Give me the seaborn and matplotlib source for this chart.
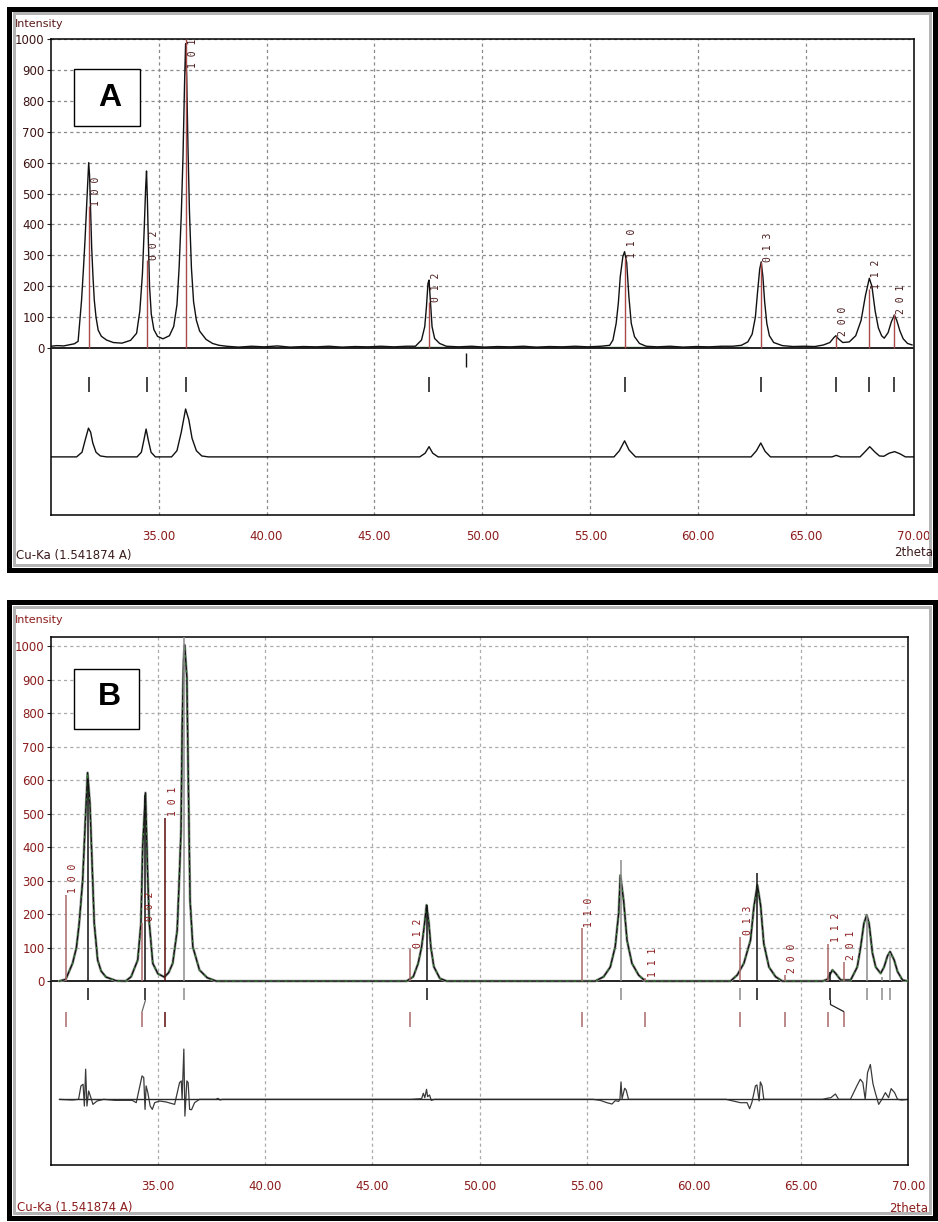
import matplotlib
matplotlib.use('Agg')
import matplotlib.pyplot as plt
from matplotlib.patches import Rectangle
import seaborn as sns
import pandas as pd

# ---- panel A : observed pattern, stick lines, calculated pattern ----
a_obs = [(30.0, 6), (30.3, 8), (30.6, 7), (30.9, 11), (31.1, 14), (31.27, 22), (31.43, 155), (31.52, 260),
         (31.59, 350), (31.65, 440), (31.70, 520), (31.76, 600), (31.80, 560), (31.86, 420), (31.90, 323),
         (31.96, 230), (32.02, 155), (32.10, 100), (32.20, 58), (32.35, 38), (32.59, 26), (32.9, 18), (33.3, 16),
         (33.7, 25), (33.98, 48), (34.13, 120), (34.25, 240), (34.33, 380), (34.40, 520), (34.44, 573),
         (34.48, 480), (34.53, 330), (34.58, 200), (34.66, 110), (34.78, 60), (34.95, 38), (35.2, 30), (35.5, 40),
         (35.7, 70), (35.85, 140), (35.95, 260), (36.05, 430), (36.13, 620), (36.20, 850), (36.25, 985),
         (36.30, 880), (36.36, 650), (36.43, 440), (36.52, 260), (36.62, 150), (36.75, 90), (36.9, 55),
         (37.2, 28), (37.5, 15), (37.8, 9), (38.15, 6), (38.7, 3), (39.3, 6), (39.9, 4), (40.5, 7), (41.1, 3),
         (41.7, 5), (42.3, 4), (42.9, 6), (43.5, 3), (44.1, 5), (44.7, 4), (45.3, 6), (45.9, 4), (46.5, 6),
         (46.9, 6), (47.18, 26), (47.33, 69), (47.41, 134), (47.48, 209), (47.53, 220), (47.59, 155), (47.67, 69),
         (47.79, 31), (48.02, 15), (48.33, 6), (48.9, 4), (49.5, 6), (50.1, 3), (50.7, 5), (51.3, 4), (51.9, 6),
         (52.5, 3), (53.1, 5), (53.7, 4), (54.3, 6), (54.9, 4), (55.5, 6), (55.9, 9), (56.05, 26), (56.2, 80),
         (56.3, 145), (56.39, 231), (56.51, 296), (56.59, 312), (56.69, 275), (56.79, 166), (56.9, 80),
         (57.05, 37), (57.28, 15), (57.59, 6), (58.1, 4), (58.7, 6), (59.3, 3), (59.9, 5), (60.5, 4), (61.1, 6),
         (61.6, 6), (62.0, 9), (62.3, 20), (62.5, 45), (62.65, 100), (62.75, 180), (62.85, 255), (62.92, 279),
         (63.0, 230), (63.08, 150), (63.18, 80), (63.3, 40), (63.5, 18), (63.9, 8), (64.4, 5), (64.9, 6),
         (65.4, 5), (65.8, 10), (66.1, 18), (66.3, 35), (66.38, 40), (66.5, 30), (66.7, 18), (67.0, 20),
         (67.3, 40), (67.55, 90), (67.75, 170), (67.93, 226), (68.05, 200), (68.2, 120), (68.35, 65), (68.5, 40),
         (68.62, 32), (68.8, 50), (68.95, 85), (69.09, 107), (69.2, 90), (69.35, 55), (69.5, 30), (69.7, 15),
         (69.92, 10)]

a_calc = [(30.0, 0), (31.2, 0), (31.45, 15), (31.6, 55), (31.75, 93), (31.85, 80), (31.95, 45), (32.1, 15),
          (32.3, 3), (32.6, 0), (34.0, 0), (34.2, 15), (34.32, 55), (34.42, 90), (34.52, 55), (34.65, 15),
          (34.85, 0), (35.6, 0), (35.85, 20), (36.05, 80), (36.25, 155), (36.4, 120), (36.55, 60), (36.75, 20),
          (37.0, 3), (37.3, 0), (47.1, 0), (47.35, 12), (47.53, 33), (47.7, 12), (47.95, 0), (56.1, 0),
          (56.35, 20), (56.59, 52), (56.8, 22), (57.1, 0), (62.45, 0), (62.7, 20), (62.9, 45), (63.1, 18),
          (63.35, 0), (66.2, 0), (66.4, 5), (66.6, 0), (67.5, 0), (67.75, 18), (67.95, 33), (68.2, 15), (68.4, 3),
          (68.6, 2), (68.85, 12), (69.1, 17), (69.35, 10), (69.6, 0), (70.0, 0)]

a_hkl = ['100', '002', '101', '012', '110', '013', '200', '112', '201']
a_pos = [31.79, 34.44, 36.25, 47.53, 56.59, 62.92, 66.38, 67.93, 69.09]
a_stick = [460, 285, 1000, 150, 290, 280, 40, 190, 110]
a_extra_tick = [49.26]

# ---- panel B : observed pattern, two phases, difference curve ----
b_obs = [(30.4, 0), (30.7, 5), (31.02, 53), (31.2, 100), (31.33, 173), (31.49, 300), (31.61, 471), (31.72, 622),
         (31.83, 530), (31.93, 352), (32.03, 173), (32.19, 63), (32.35, 30), (32.58, 12), (33.05, 1), (33.5, 0),
         (33.75, 13), (34.06, 63), (34.21, 173), (34.29, 400), (34.42, 562), (34.52, 322), (34.60, 173),
         (34.76, 53), (35.0, 22), (35.30, 12), (35.5, 25), (35.69, 53), (35.9, 152), (36.0, 311), (36.08, 451),
         (36.13, 749), (36.2, 960), (36.25, 1003), (36.35, 908), (36.41, 640), (36.5, 242), (36.63, 102),
         (36.94, 33), (37.3, 10), (37.72, 0), (46.6, 0), (46.91, 13), (47.14, 53), (47.3, 102), (47.42, 162),
         (47.53, 227), (47.64, 172), (47.73, 102), (47.87, 43), (48.15, 8), (48.47, 0), (55.40, 0), (55.79, 13),
         (56.1, 42), (56.33, 103), (56.49, 202), (56.57, 316), (56.72, 242), (56.88, 122), (57.11, 53),
         (57.42, 18), (57.73, 0), (61.71, 0), (62.02, 18), (62.33, 53), (62.64, 122), (62.8, 222), (62.96, 287),
         (63.11, 227), (63.26, 112), (63.5, 42), (63.81, 13), (64.12, 0), (66.0, 0), (66.22, 5), (66.46, 33),
         (66.61, 23), (66.85, 3), (67.31, 3), (67.62, 42), (67.78, 103), (67.93, 172), (68.06, 197), (68.17, 172),
         (68.33, 83), (68.48, 42), (68.71, 23), (68.87, 42), (69.03, 75), (69.15, 88), (69.34, 63), (69.5, 28),
         (69.73, 3), (70.0, 0)]

b_diff = [(30.4, 0), (31.0, -2), (31.3, 0), (31.41, 40), (31.51, 45), (31.57, -20), (31.63, 90), (31.69, -20),
          (31.77, 25), (31.85, 10), (31.97, -15), (32.16, -5), (32.47, 0), (33.0, -3), (33.8, -3), (33.99, -10),
          (34.26, 70), (34.34, 65), (34.40, -30), (34.45, 40), (34.53, 20), (34.64, -20), (34.74, -30),
          (34.85, -10), (35.08, -5), (35.39, -8), (35.78, -15), (36.01, 50), (36.09, 55), (36.13, 0), (36.21, 150),
          (36.26, -50), (36.35, 55), (36.41, 50), (36.48, -30), (36.57, -31), (36.71, -10), (36.94, 0), (37.7, 0),
          (37.8, 3), (37.9, -2), (38.0, 0), (46.8, 0), (47.3, 2), (47.38, 18), (47.45, 5), (47.53, 30), (47.58, 8),
          (47.67, 13), (47.75, -3), (47.9, 0), (55.3, 0), (55.63, -3), (55.94, -10), (56.18, -14), (56.33, -4),
          (56.49, -6), (56.55, 0), (56.6, 52), (56.65, 2), (56.77, 33), (56.84, 28), (56.95, 0), (57.6, 0),
          (61.5, 0), (62.17, -10), (62.48, -10), (62.6, -28), (62.71, -8), (62.87, 40), (62.94, 43), (63.04, -5),
          (63.1, 52), (63.18, 40), (63.26, 0), (66.0, 0), (66.2, 3), (66.39, 5), (66.6, 16), (66.75, 0), (67.3, 0),
          (67.6, 40), (67.76, 60), (67.88, 50), (67.99, 0), (68.1, 80), (68.23, 104), (68.35, 47), (68.46, 20),
          (68.62, -15), (68.77, 0), (68.93, 20), (69.08, 5), (69.2, 32), (69.36, 20), (69.5, 0), (69.7, -2),
          (70.0, 0)]

# phase 1 (observed peak positions) sticks
b_pos1 = [31.72, 34.42, 36.21, 47.53, 56.6, 62.96, 66.37, 68.06, 68.78, 69.15]
b_stick1 = [600, 555, 1028, 227, 361, 322, 28, 197, 13, 83]
b_dark1 = [True, True, False, True, False, True, True, False, False, False]
# phase 2 (reference card) sticks with labels
b_hkl = ['100', '002', '101', '012', '110', '111', '013', '200', '112', '201']
b_pos2 = [30.71, 34.26, 35.34, 46.78, 54.78, 57.72, 62.17, 64.23, 66.27, 66.99]
b_stick2 = [257, 173, 487, 95, 157, 8, 132, 18, 112, 58]

xticks = [35, 40, 45, 50, 55, 60, 65, 70]
yticks = list(range(0, 1001, 100))

W, H = 938, 1222
MAROON = '#8b1c1c'
sns.set_theme(style='white')
plt.rcParams['font.family'] = ['Liberation Sans Narrow', 'DejaVu Sans']

fig = plt.figure(figsize=(W / 100, H / 100), dpi=100)
fig.patch.set_facecolor('white')


def frac_rect(x0, y0, x1, y1, **kw):
    # rectangle given in picture pixels (top-left origin)
    return Rectangle((x0 / W, 1 - y1 / H), (x1 - x0) / W, (y1 - y0) / H,
                     transform=fig.transFigure, **kw)


def hkl_text(h):
    return ' '.join(h)


def base_axes(rect, ylim, ylab_color, grid_col):
    x0, y0, x1, y1 = rect
    ax = fig.add_axes([x0 / W, 1 - y1 / H, (x1 - x0) / W, (y1 - y0) / H])
    ax.set_xlim(30, 70)
    ax.set_ylim(*ylim)
    for xv in xticks[:-1]:
        ax.axvline(xv, color=grid_col, lw=0.9, ls=(0, (2.5, 2.5)), zorder=0)
    for yv in yticks[1:]:
        ax.axhline(yv, color=grid_col, lw=0.9, ls=(0, (2.5, 2.5)), zorder=0)
    ax.axhline(0, color='#222222', lw=1.4, zorder=3)
    ax.set_xticks(xticks)
    ax.set_xticklabels(['%.2f' % v for v in xticks])
    ax.set_yticks(yticks)
    ax.set_yticklabels([str(v) for v in yticks])
    ax.tick_params(axis='x', length=0, pad=11, labelsize=8.5, labelcolor=MAROON)
    ax.tick_params(axis='y', length=3, width=0.8, direction='out', pad=1.5, labelsize=8.5,
                   labelcolor=ylab_color, left=True)
    for s in ax.spines.values():
        s.set_color('black')
        s.set_linewidth(1.1)
    return ax


# ================= panel A =================
axA = base_axes((50.7, 39, 914, 515), (-540, 1000), '#3c1414', '#8a8a8a')
dfa = pd.DataFrame(a_obs, columns=['tt', 'I'])
dfc = pd.DataFrame(a_calc, columns=['tt', 'I'])
axA.plot([38, 47, 48.3, 56, 57.6, 62.3], [2, 2, 2, 2, 2, 2], color='#2f7a2f', lw=1.0, zorder=2)
sns.lineplot(data=dfa, x='tt', y='I', ax=axA, color='#111111', lw=1.0, estimator=None, sort=False,
             legend=False, zorder=4)
sns.lineplot(x=dfc['tt'], y=dfc['I'] - 352, ax=axA, color='#111111', lw=1.0, estimator=None, sort=False,
             legend=False)
axA.vlines(a_pos, 0, a_stick, colors='#a64a4a', lw=1.0, zorder=5)
axA.vlines(a_pos, -142, -94, colors='#111111', lw=1.1)
axA.vlines(a_extra_tick, -60, -16, colors='#111111', lw=1.0)
for h, x, s in zip(a_hkl, a_pos, a_stick):
    axA.text(x + 0.33, min(s, 905), hkl_text(h), rotation=90, ha='center', va='bottom',
             family='DejaVu Sans Mono', fontsize=7, color='#4a1a1a', zorder=6)
axA.set_xlabel('')
axA.set_ylabel('')

# ================= panel B =================
axB = base_axes((50.7, 636.7, 908.3, 1165), (-549, 1028), MAROON, '#ababab')
dfb = pd.DataFrame(b_obs, columns=['tt', 'I'])
dfd = pd.DataFrame(b_diff, columns=['tt', 'd'])
sns.lineplot(data=dfb, x='tt', y='I', ax=axB, color='#a8a8a8', lw=2.0, estimator=None, sort=False,
             legend=False, zorder=3)
sns.lineplot(data=dfb, x='tt', y='I', ax=axB, color='#111111', lw=1.0, estimator=None, sort=False,
             legend=False, zorder=4)
sns.lineplot(data=dfb, x='tt', y='I', ax=axB, color='#2f7a2f', lw=0.9, estimator=None, sort=False,
             legend=False, zorder=4, linestyle=(0, (2, 4)))
sns.lineplot(x=dfd['tt'], y=dfd['d'] - 353, ax=axB, color='#3a3a3a', lw=0.9, estimator=None, sort=False,
             legend=False)
axB.plot([30.4, 70.0], [-353, -353], color='#2a2a2a', lw=1.0)

c1 = ['#111111' if d else '#8c8c8c' for d in b_dark1]
axB.vlines(b_pos1, 0, b_stick1, colors=c1, lw=1.1, zorder=5)
axB.vlines(b_pos1, -57, -20, colors=c1, lw=1.1)
c2 = ['#5a0c0c' if p == 35.34 else '#a86a6a' for p in b_pos2]
axB.vlines(b_pos2, 0, b_stick2, colors=c2, lw=1.1, zorder=5)
axB.vlines(b_pos2, -136, -91, colors=c2, lw=1.1)
# connectors between overlapping reflections of the two phases
axB.plot([34.42, 34.26], [-57, -91], color='#6a6a6a', lw=0.9)
axB.plot([66.37, 66.37, 66.99], [-57, -70, -91], color='#222222', lw=0.9)
axB.vlines([62.17], -57, -20, colors='#8c8c8c', lw=1.1)
for h, x, s in zip(b_hkl, b_pos2, b_stick2):
    axB.text(x + 0.35, s + 5, hkl_text(h), rotation=90, ha='center', va='bottom',
             family='DejaVu Sans Mono', fontsize=7, color=MAROON, zorder=6)
axB.set_xlabel('')
axB.set_ylabel('')

# ================= window frames and captions =================
for (top, bot) in [(5, 573), (599, 1221)]:
    fig.add_artist(frac_rect(9, top + 3.5, 934.5, bot - 3.5, fill=False, ec='black', lw=5 * 0.72))
    fig.add_artist(frac_rect(13.5, top + 8, 930, bot - 8, fill=False, ec='#b4b4b4', lw=3 * 0.72))

fig.text(15 / W, 1 - 24 / H, 'Intensity', fontsize=8, color='#5a1a1a', ha='left', va='center')
fig.text(16 / W, 1 - 556 / H, 'Cu-Ka (1.541874 A)', fontsize=8.5, color='#3a1a1a', ha='left', va='center')
fig.text(933 / W, 1 - 553 / H, '2theta', fontsize=8.5, color='#3a1a1a', ha='right', va='center')
fig.text(15 / W, 1 - 620 / H, 'Intensity', fontsize=8, color=MAROON, ha='left', va='center')
fig.text(17 / W, 1 - 1208 / H, 'Cu-Ka (1.541874 A)', fontsize=8.5, color=MAROON, ha='left', va='center')
fig.text(928 / W, 1 - 1208 / H, '2theta', fontsize=8.5, color=MAROON, ha='right', va='center')

# panel letters in boxes
fig.add_artist(frac_rect(74, 69, 140, 126, fill=True, fc='white', ec='black', lw=1.0, zorder=10))
fig.text(110 / W, 1 - 98 / H, 'A', fontsize=23, fontweight='bold', family='Liberation Sans',
         color='black', ha='center', va='center', zorder=11)
fig.add_artist(frac_rect(73.7, 669, 139, 729, fill=True, fc='white', ec='black', lw=1.0, zorder=10))
fig.text(109 / W, 1 - 697 / H, 'B', fontsize=23, fontweight='bold', family='Liberation Sans',
         color='black', ha='center', va='center', zorder=11)

fig.savefig('out.png', dpi=100, facecolor='white')
